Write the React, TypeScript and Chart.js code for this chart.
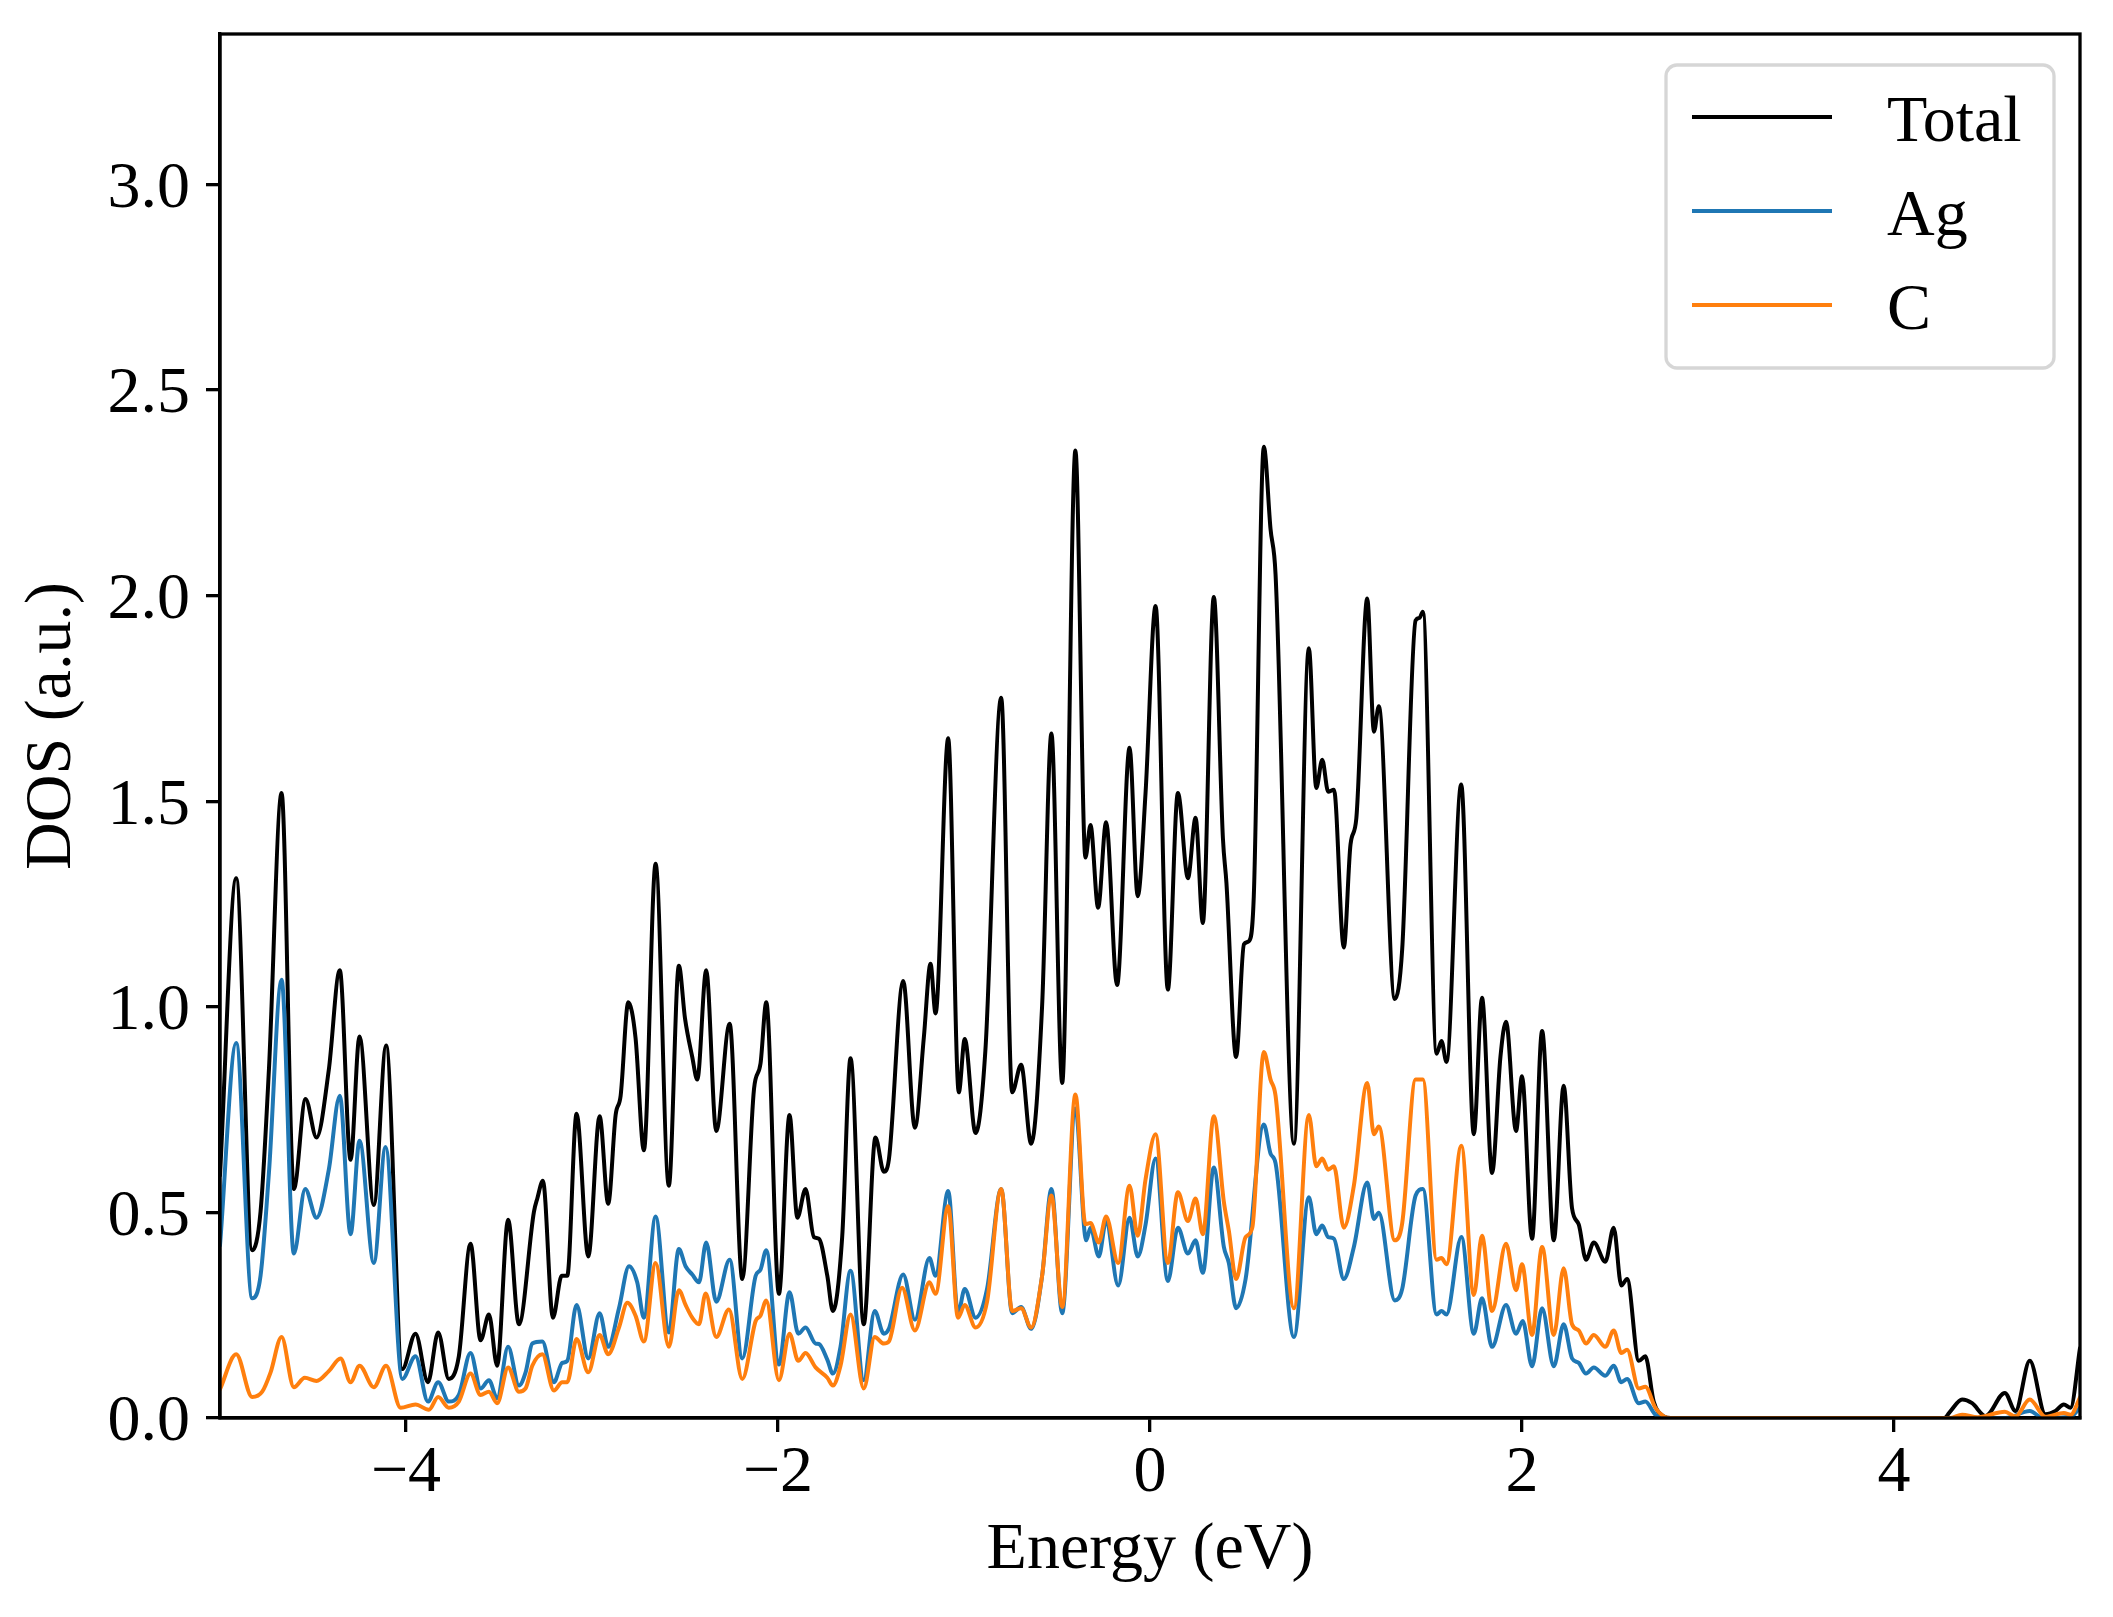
import React, { useEffect, useRef } from 'react';
import { Chart, registerables } from 'chart.js';

Chart.register(...registerables);

const SERIES_LABELS = ['Total', 'Ag', 'C'];
const X_TICKS = [-4, -2, 0, 2, 4];
const Y_TICKS = [0, 0.5, 1.0, 1.5, 2.0, 2.5, 3.0];

// [energy (eV), DOS]
const TOTAL: number[][] = [
  [-5.0, 0.59], [-4.913, 1.313], [-4.827, 0.408], [-4.782, 0.502], [-4.737, 0.847], [-4.669, 1.52],
  [-4.603, 0.557], [-4.54, 0.776], [-4.481, 0.682], [-4.415, 0.847], [-4.356, 1.089], [-4.298, 0.628],
  [-4.25, 0.928], [-4.173, 0.518], [-4.107, 0.906], [-4.02, 0.119], [-3.949, 0.205], [-3.882, 0.087],
  [-3.827, 0.208], [-3.77, 0.095], [-3.716, 0.15], [-3.653, 0.424], [-3.599, 0.189], [-3.554, 0.252],
  [-3.51, 0.127], [-3.451, 0.482], [-3.393, 0.228], [-3.312, 0.502], [-3.294, 0.534], [-3.264, 0.577],
  [-3.21, 0.244], [-3.163, 0.346], [-3.133, 0.346], [-3.083, 0.74], [-3.02, 0.393], [-2.959, 0.734],
  [-2.913, 0.521], [-2.873, 0.737], [-2.846, 0.784], [-2.805, 1.011], [-2.766, 0.925], [-2.721, 0.651],
  [-2.658, 1.348], [-2.587, 0.565], [-2.533, 1.1], [-2.5, 0.972], [-2.461, 0.878], [-2.434, 0.823],
  [-2.386, 1.089], [-2.332, 0.698], [-2.26, 0.959], [-2.192, 0.338], [-2.129, 0.8], [-2.094, 0.862],
  [-2.063, 1.011], [-1.995, 0.302], [-1.938, 0.737], [-1.896, 0.487], [-1.852, 0.557], [-1.807, 0.44],
  [-1.78, 0.436], [-1.735, 0.346], [-1.705, 0.26], [-1.655, 0.44], [-1.61, 0.875], [-1.539, 0.228],
  [-1.476, 0.682], [-1.431, 0.599], [-1.404, 0.628], [-1.327, 1.063], [-1.264, 0.706], [-1.216, 0.925],
  [-1.18, 1.105], [-1.153, 0.984], [-1.085, 1.653], [-1.028, 0.792], [-0.996, 0.922], [-0.938, 0.693],
  [-0.885, 0.894], [-0.8, 1.752], [-0.741, 0.792], [-0.693, 0.859], [-0.639, 0.667], [-0.58, 1.003],
  [-0.53, 1.665], [-0.472, 0.815], [-0.401, 2.353], [-0.347, 1.363], [-0.32, 1.442], [-0.279, 1.241],
  [-0.236, 1.449], [-0.177, 1.053], [-0.11, 1.63], [-0.066, 1.269], [-0.024, 1.52], [0.03, 1.975],
  [0.096, 1.042], [0.15, 1.52], [0.204, 1.313], [0.245, 1.46], [0.284, 1.204], [0.343, 1.997],
  [0.392, 1.41], [0.411, 1.301], [0.463, 0.878], [0.505, 1.152], [0.532, 1.16], [0.558, 1.269],
  [0.612, 2.362], [0.648, 2.162], [0.675, 2.052], [0.774, 0.667], [0.854, 1.872], [0.894, 1.532],
  [0.926, 1.601], [0.958, 1.523], [0.989, 1.528], [1.042, 1.144], [1.078, 1.395], [1.109, 1.457],
  [1.168, 1.993], [1.204, 1.669], [1.23, 1.731], [1.316, 1.019], [1.356, 1.141], [1.428, 1.94],
  [1.449, 1.946], [1.467, 1.961], [1.541, 0.886], [1.567, 0.917], [1.594, 0.866], [1.673, 1.541],
  [1.741, 0.69], [1.785, 1.022], [1.839, 0.596], [1.884, 0.878], [1.914, 0.964], [1.968, 0.698],
  [2.0, 0.831], [2.054, 0.436], [2.108, 0.941], [2.171, 0.432], [2.224, 0.808], [2.269, 0.51],
  [2.305, 0.471], [2.344, 0.385], [2.386, 0.427], [2.448, 0.38], [2.493, 0.463], [2.534, 0.322],
  [2.565, 0.338], [2.628, 0.139], [2.663, 0.15], [2.708, 0.04], [2.762, 0.004], [2.8, 0.0],
  [4.27, 0.0], [4.304, 0.017], [4.366, 0.045], [4.42, 0.036], [4.492, 0.005], [4.596, 0.061],
  [4.653, 0.017], [4.73, 0.139], [4.814, 0.009], [4.868, 0.017], [4.913, 0.033], [4.949, 0.025],
  [5.0, 0.17],
];

const AG: number[][] = [
  [-5.0, 0.42], [-4.913, 0.912], [-4.827, 0.291], [-4.782, 0.346], [-4.737, 0.596], [-4.669, 1.066],
  [-4.603, 0.4], [-4.542, 0.557], [-4.481, 0.487], [-4.415, 0.604], [-4.356, 0.784], [-4.298, 0.447],
  [-4.25, 0.674], [-4.173, 0.377], [-4.11, 0.659], [-4.02, 0.095], [-3.949, 0.15], [-3.882, 0.04],
  [-3.827, 0.087], [-3.77, 0.04], [-3.716, 0.056], [-3.653, 0.158], [-3.599, 0.072], [-3.554, 0.092],
  [-3.51, 0.048], [-3.451, 0.173], [-3.393, 0.079], [-3.357, 0.111], [-3.321, 0.181], [-3.267, 0.186],
  [-3.205, 0.087], [-3.16, 0.134], [-3.133, 0.139], [-3.083, 0.275], [-3.02, 0.145], [-2.959, 0.255],
  [-2.913, 0.173], [-2.855, 0.267], [-2.801, 0.369], [-2.757, 0.33], [-2.721, 0.244], [-2.658, 0.49],
  [-2.587, 0.208], [-2.533, 0.411], [-2.497, 0.369], [-2.461, 0.349], [-2.425, 0.33], [-2.386, 0.427],
  [-2.332, 0.283], [-2.26, 0.385], [-2.192, 0.145], [-2.12, 0.346], [-2.094, 0.361], [-2.063, 0.408],
  [-1.995, 0.13], [-1.938, 0.306], [-1.891, 0.205], [-1.852, 0.22], [-1.798, 0.181], [-1.78, 0.18],
  [-1.735, 0.142], [-1.705, 0.108], [-1.664, 0.173], [-1.61, 0.358], [-1.539, 0.092], [-1.48, 0.26],
  [-1.431, 0.205], [-1.404, 0.217], [-1.327, 0.349], [-1.264, 0.239], [-1.186, 0.389], [-1.153, 0.346],
  [-1.085, 0.552], [-1.032, 0.255], [-0.996, 0.314], [-0.938, 0.244], [-0.876, 0.314], [-0.8, 0.557],
  [-0.741, 0.255], [-0.693, 0.27], [-0.639, 0.217], [-0.58, 0.346], [-0.53, 0.557], [-0.472, 0.255],
  [-0.401, 0.753], [-0.343, 0.432], [-0.32, 0.463], [-0.275, 0.393], [-0.236, 0.479], [-0.171, 0.322],
  [-0.11, 0.487], [-0.066, 0.393], [-0.024, 0.47], [0.03, 0.631], [0.096, 0.333], [0.15, 0.463],
  [0.204, 0.4], [0.245, 0.432], [0.284, 0.353], [0.343, 0.609], [0.397, 0.416], [0.424, 0.377],
  [0.463, 0.267], [0.514, 0.338], [0.612, 0.714], [0.648, 0.643], [0.675, 0.62], [0.774, 0.197],
  [0.854, 0.537], [0.894, 0.447], [0.926, 0.468], [0.958, 0.44], [0.989, 0.436], [1.042, 0.338],
  [1.096, 0.416], [1.168, 0.573], [1.204, 0.484], [1.23, 0.499], [1.316, 0.286], [1.356, 0.314],
  [1.428, 0.541], [1.467, 0.557], [1.541, 0.252], [1.567, 0.26], [1.594, 0.252], [1.674, 0.44],
  [1.741, 0.205], [1.785, 0.291], [1.839, 0.173], [1.914, 0.275], [1.968, 0.205], [2.004, 0.236],
  [2.054, 0.126], [2.108, 0.267], [2.171, 0.126], [2.224, 0.228], [2.269, 0.145], [2.305, 0.134],
  [2.344, 0.108], [2.386, 0.123], [2.448, 0.103], [2.493, 0.127], [2.534, 0.087], [2.565, 0.095],
  [2.628, 0.036], [2.663, 0.04], [2.717, 0.008], [2.76, 0.0], [4.6, 0.0], [4.73, 0.017],
  [4.8, 0.0], [4.95, 0.003], [5.0, 0.025],
];

const C: number[][] = [
  [-5.0, 0.07], [-4.913, 0.155], [-4.827, 0.051], [-4.773, 0.064], [-4.728, 0.111], [-4.669, 0.197],
  [-4.603, 0.075], [-4.544, 0.098], [-4.481, 0.09], [-4.415, 0.114], [-4.352, 0.145], [-4.298, 0.087],
  [-4.25, 0.127], [-4.173, 0.075], [-4.107, 0.127], [-4.029, 0.025], [-3.949, 0.033], [-3.877, 0.02],
  [-3.827, 0.051], [-3.77, 0.025], [-3.716, 0.04], [-3.653, 0.108], [-3.599, 0.056], [-3.554, 0.064],
  [-3.51, 0.036], [-3.451, 0.123], [-3.393, 0.064], [-3.357, 0.072], [-3.321, 0.127], [-3.267, 0.155],
  [-3.205, 0.067], [-3.16, 0.087], [-3.133, 0.087], [-3.083, 0.192], [-3.02, 0.111], [-2.959, 0.202],
  [-2.913, 0.155], [-2.855, 0.22], [-2.81, 0.28], [-2.766, 0.249], [-2.721, 0.186], [-2.658, 0.377],
  [-2.587, 0.173], [-2.533, 0.311], [-2.497, 0.275], [-2.461, 0.244], [-2.425, 0.228], [-2.389, 0.303],
  [-2.332, 0.197], [-2.264, 0.264], [-2.192, 0.095], [-2.12, 0.236], [-2.094, 0.249], [-2.063, 0.286],
  [-1.995, 0.092], [-1.938, 0.205], [-1.891, 0.139], [-1.852, 0.158], [-1.798, 0.123], [-1.735, 0.098],
  [-1.705, 0.079], [-1.664, 0.127], [-1.61, 0.252], [-1.539, 0.072], [-1.48, 0.197], [-1.431, 0.181],
  [-1.404, 0.186], [-1.333, 0.317], [-1.264, 0.213], [-1.186, 0.33], [-1.153, 0.302], [-1.085, 0.515],
  [-1.032, 0.244], [-0.996, 0.275], [-0.938, 0.22], [-0.876, 0.283], [-0.8, 0.557], [-0.741, 0.26],
  [-0.693, 0.267], [-0.639, 0.22], [-0.58, 0.346], [-0.53, 0.541], [-0.472, 0.27], [-0.401, 0.787],
  [-0.347, 0.471], [-0.32, 0.474], [-0.275, 0.427], [-0.236, 0.49], [-0.171, 0.377], [-0.11, 0.565],
  [-0.066, 0.443], [-0.024, 0.58], [0.03, 0.69], [0.096, 0.377], [0.15, 0.549], [0.204, 0.479],
  [0.245, 0.534], [0.284, 0.447], [0.343, 0.734], [0.397, 0.526], [0.424, 0.455], [0.463, 0.338],
  [0.514, 0.44], [0.55, 0.463], [0.612, 0.89], [0.648, 0.823], [0.675, 0.784], [0.774, 0.267],
  [0.854, 0.737], [0.894, 0.612], [0.926, 0.631], [0.958, 0.604], [0.989, 0.612], [1.042, 0.463],
  [1.096, 0.565], [1.168, 0.815], [1.204, 0.69], [1.23, 0.709], [1.316, 0.432], [1.356, 0.474],
  [1.428, 0.823], [1.467, 0.823], [1.541, 0.385], [1.567, 0.389], [1.594, 0.374], [1.674, 0.662],
  [1.741, 0.299], [1.785, 0.443], [1.839, 0.26], [1.914, 0.424], [1.968, 0.311], [2.0, 0.374],
  [2.054, 0.202], [2.108, 0.416], [2.171, 0.202], [2.224, 0.364], [2.269, 0.228], [2.305, 0.213],
  [2.344, 0.181], [2.386, 0.202], [2.448, 0.173], [2.493, 0.213], [2.534, 0.158], [2.565, 0.166],
  [2.628, 0.072], [2.663, 0.076], [2.717, 0.025], [2.762, 0.004], [2.8, 0.0], [4.3, 0.0],
  [4.366, 0.008], [4.45, 0.002], [4.596, 0.015], [4.653, 0.004], [4.73, 0.045], [4.814, 0.003],
  [4.913, 0.012], [4.95, 0.008], [5.0, 0.05],
];

const COLORS = ['#000000', '#1f77b4', '#ff7f0e'];
const FONT_FAMILY = "'Liberation Serif', 'Times New Roman', serif";
const FONT_SIZE = 66;

const framePlugin = {
  id: 'frame',
  afterDatasetsDraw(chart: any) {
    const { ctx, chartArea } = chart;
    ctx.save();
    ctx.strokeStyle = '#000';
    ctx.lineWidth = 3.3;
    ctx.strokeRect(chartArea.left, chartArea.top, chartArea.right - chartArea.left, chartArea.bottom - chartArea.top);
    ctx.restore();
  },
};

const legendPlugin = {
  id: 'boxLegend',
  afterDraw(chart: any) {
    const { ctx, chartArea } = chart;
    const w = 388;
    const h = 303;
    const x0 = chartArea.right - 26 - w;
    const y0 = chartArea.top + 31;
    ctx.save();
    ctx.beginPath();
    ctx.roundRect(x0, y0, w, h, 11);
    ctx.fillStyle = 'rgba(255,255,255,0.8)';
    ctx.fill();
    ctx.lineWidth = 3.3;
    ctx.strokeStyle = 'rgba(204,204,204,0.8)';
    ctx.stroke();
    ctx.font = `${FONT_SIZE}px ${FONT_FAMILY}`;
    ctx.textBaseline = 'alphabetic';
    ctx.textAlign = 'left';
    chart.data.datasets.forEach((ds: any, i: number) => {
      const ly = y0 + 52 + i * 94;
      ctx.beginPath();
      ctx.moveTo(x0 + 26, ly);
      ctx.lineTo(x0 + 166, ly);
      ctx.lineWidth = 4;
      ctx.strokeStyle = ds.borderColor;
      ctx.lineCap = 'butt';
      ctx.stroke();
      ctx.fillStyle = '#000';
      ctx.fillText(ds.label, x0 + 221, ly + 24);
    });
    ctx.restore();
  },
};

const toPoints = (arr: number[][]) => arr.map(([x, y]) => ({ x, y }));

export default function App() {
  const ref = useRef<HTMLCanvasElement | null>(null);

  useEffect(() => {
    document.body.style.margin = '0';
    const canvas = ref.current;
    if (!canvas) return;
    const font = { family: FONT_FAMILY, size: FONT_SIZE };
    const chart = new Chart(canvas, {
      type: 'line',
      data: {
        datasets: [
          { label: SERIES_LABELS[0], data: toPoints(TOTAL), borderColor: COLORS[0], order: 3 },
          { label: SERIES_LABELS[1], data: toPoints(AG), borderColor: COLORS[1], order: 2 },
          { label: SERIES_LABELS[2], data: toPoints(C), borderColor: COLORS[2], order: 1 },
        ],
      },
      options: {
        animation: false,
        responsive: false,
        devicePixelRatio: 1,
        layout: { padding: { left: 0, top: 34, right: 33, bottom: 0 } },
        elements: {
          point: { radius: 0, hoverRadius: 0 },
          line: {
            borderWidth: 4,
            tension: 0.4,
            cubicInterpolationMode: 'monotone',
            fill: false,
            borderJoinStyle: 'round',
            borderCapStyle: 'round',
          },
        },
        plugins: { legend: { display: false }, tooltip: { enabled: false } },
        scales: {
          x: {
            type: 'linear',
            min: -5,
            max: 5,
            afterBuildTicks: (s: any) => {
              s.ticks = X_TICKS.map((v) => ({ value: v }));
            },
            afterFit: (s: any) => {
              s.height = 199;
              s.paddingLeft = 0;
              s.paddingRight = 0;
              s.paddingTop = 0;
              s.paddingBottom = 0;
            },
            ticks: {
              font,
              color: '#000',
              padding: 2,
              maxRotation: 0,
              autoSkip: false,
              callback: (v: any) => (Number(v) < 0 ? '\u2212' + Math.abs(Number(v)) : String(v)),
            },
            grid: {
              drawOnChartArea: false,
              drawTicks: true,
              tickLength: 14,
              lineWidth: 3.3,
              tickWidth: 3.3,
              tickColor: '#000',
              color: '#000',
            },
            border: { display: true, color: '#000', width: 3.3 },
            title: {
              display: true,
              text: 'Energy (eV)',
              font,
              color: '#000',
              padding: { top: 0, bottom: 27 },
            },
          },
          y: {
            type: 'linear',
            min: 0,
            max: 3.366,
            afterBuildTicks: (s: any) => {
              s.ticks = Y_TICKS.map((v) => ({ value: v }));
            },
            afterFit: (s: any) => {
              s.width = 220;
              s.paddingTop = 0;
              s.paddingBottom = 0;
              s.paddingLeft = 0;
              s.paddingRight = 0;
            },
            ticks: {
              font,
              color: '#000',
              padding: 16,
              labelOffset: 5,
              autoSkip: false,
              callback: (v: any) => Number(v).toFixed(1),
            },
            grid: {
              drawOnChartArea: false,
              drawTicks: true,
              tickLength: 14,
              lineWidth: 3.3,
              tickWidth: 3.3,
              tickColor: '#000',
              color: '#000',
            },
            border: { display: true, color: '#000', width: 3.3 },
            title: {
              display: true,
              text: 'DOS (a.u.)',
              font,
              color: '#000',
              padding: { top: 13, bottom: 0 },
            },
          },
        },
      },
      plugins: [framePlugin, legendPlugin],
    } as any);
    return () => chart.destroy();
  }, []);

  return (
    <canvas
      ref={ref}
      width={2113}
      height={1617}
      style={{ display: 'block', width: '2113px', height: '1617px' }}
    />
  );
}
